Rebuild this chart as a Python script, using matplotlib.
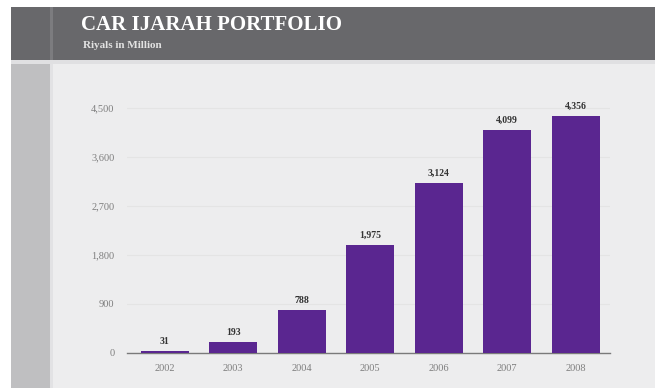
import matplotlib.pyplot as plt
import matplotlib.patches as mpatches

years = ["2002", "2003", "2004", "2005", "2006", "2007", "2008"]
portfolio = [31, 193, 788, 1975, 3124, 4099, 4356]
yticks = [0, 900, 1800, 2700, 3600, 4500]

W, H = 655, 388
fig = plt.figure(figsize=(W / 100, H / 100), dpi=100)
fig.patch.set_facecolor("white")

def box(x0, y0, x1, y1, color):
    # pixel box (top-left origin) -> figure fraction rectangle
    fig.add_artist(mpatches.Rectangle((x0 / W, 1 - y1 / H), (x1 - x0) / W, (y1 - y0) / H,
                                      transform=fig.transFigure, color=color, lw=0, zorder=0))

# page frame
box(11, 60, 655, 388, "#ededee")
box(11, 60, 50, 388, "#bfbfc1")
box(50, 60, 53, 388, "#e2e2e4")
box(11, 60, 655, 64, "#e0e0e2")
box(11, 7, 655, 60, "#68686b")
box(50, 7, 53, 60, "#7c7c7f")

fig.text(81 / W, 1 - 25 / H, "CAR IJARAH PORTFOLIO", color="white", fontsize=15,
         fontweight="bold", family="Liberation Serif", va="center", ha="left")
fig.text(83 / W, 1 - 45 / H, "Riyals in Million", color="#e2e2e2", fontsize=8,
         fontweight="bold", family="Liberation Serif", va="center", ha="left")

ax = fig.add_axes([127 / W, 1 - 352.7 / H, (610 - 127) / W, (352.7 - 96.8) / H])
ax.set_facecolor("none")
x = range(len(years))
bars = ax.bar(x, portfolio, width=0.7, color="#5a2690", zorder=3)

for xi, v in zip(x, portfolio):
    ax.text(xi, v + 90, f"{v:,}", ha="center", va="bottom", fontsize=7,
            fontweight="bold", color="#333333", family="Liberation Serif")

ax.set_xlim(-0.55, 6.5)
ax.set_ylim(0, 4700)
ax.set_xticks(list(x))
ax.set_xticklabels(years)
ax.set_yticks(yticks)
ax.set_yticklabels([f"{t:,}" for t in yticks])
for lbl in ax.get_xticklabels() + ax.get_yticklabels():
    lbl.set_family("Liberation Serif")
    lbl.set_fontsize(7.5)
    lbl.set_color("#7e7e7e")
ax.tick_params(length=0, pad=9)
ax.tick_params(axis="x", pad=8)
ax.grid(axis="y", color="#e4e4e4", lw=0.8, zorder=0)
for s in ["top", "right", "left"]:
    ax.spines[s].set_visible(False)
ax.spines["bottom"].set_color("#7a7a7a")
ax.spines["bottom"].set_linewidth(1)

fig.savefig("out.png", dpi=100)
